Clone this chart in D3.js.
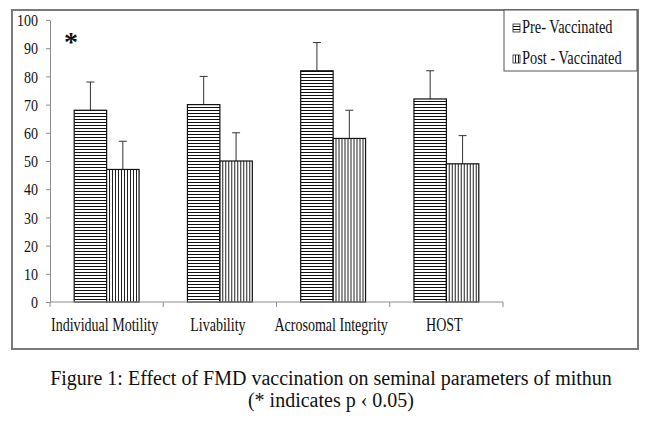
<!DOCTYPE html>
<html>
<head>
<meta charset="utf-8">
<script src="https://cdn.jsdelivr.net/npm/d3@7"></script>
<style>
  body { margin: 0; background: #fff; }
  svg { display: block; }
  svg text { font-family: "Liberation Serif", Tinos, "DejaVu Serif", "Times New Roman", serif; fill: #111; }
</style>
</head>
<body>
<div id="chart"></div>
<script>
const categories = ['Individual Motility', 'Livability', 'Acrosomal Integrity', 'HOST'];
const seriesNames = ['Pre- Vaccinated', 'Post - Vaccinated'];
const preValues = [68, 70, 82, 72];
const postValues = [47, 50, 58, 49];
const preErrors = [10, 10, 10, 10];
const postErrors = [10, 10, 10, 10];
const yTicks = [0, 10, 20, 30, 40, 50, 60, 70, 80, 90, 100];
const significant = ['Individual Motility'];
const captionLines = [
  'Figure 1: Effect of FMD vaccination on seminal parameters of mithun',
  '(* indicates p \u2039 0.05)'
];

const SERIF = '"Liberation Serif", Tinos, "DejaVu Serif", "Times New Roman", serif';

// squash text horizontally, the source figure was resized narrower
function squeeze(sel, k) {
  sel.each(function () {
    let w = this.getComputedTextLength();
    d3.select(this).attr('textLength', w * k).attr('lengthAdjust', 'spacingAndGlyphs');
  });
}

function drawChart() {
  let width = 659, height = 433,
    left = 50, right = 503, top = 20, bottom = 302;

  let svg = d3.select('#chart').append('svg')
    .attr('width', width)
    .attr('height', height)
    .attr('font-family', SERIF);

  let defs = svg.append('defs');
  let hp = defs.append('pattern')
    .attr('id', 'hstripe')
    .attr('patternUnits', 'userSpaceOnUse')
    .attr('width', 6).attr('height', 3);
  hp.append('rect').attr('width', 6).attr('height', 3).attr('fill', '#fff');
  hp.append('rect').attr('y', 2).attr('width', 6).attr('height', 1).attr('fill', '#111');

  let vp = defs.append('pattern')
    .attr('id', 'vstripe')
    .attr('patternUnits', 'userSpaceOnUse')
    .attr('width', 3).attr('height', 6);
  vp.append('rect').attr('width', 3).attr('height', 6).attr('fill', '#fff');
  vp.append('rect').attr('x', 2).attr('width', 1).attr('height', 6).attr('fill', '#222');

  const fills = ['url(#hstripe)', 'url(#vstripe)'];

  // outer frame
  svg.append('rect')
    .attr('x', 12).attr('y', 10)
    .attr('width', 626).attr('height', 339)
    .attr('fill', 'none')
    .attr('stroke', '#7a7a7a')
    .attr('stroke-width', 2);

  let x0 = d3.scaleBand().domain(categories).range([left, right]).padding(0);
  let x1 = d3.scaleBand().domain(seriesNames).range([0, x0.bandwidth()])
    .paddingInner(0).paddingOuter(0.746);
  let y = d3.scaleLinear().domain([0, 100]).range([bottom, top]);

  // y axis
  let yAxis = svg.append('g')
    .attr('transform', `translate(${left},0)`)
    .call(d3.axisLeft(y).tickValues(yTicks).tickSize(4).tickSizeOuter(0).tickPadding(8));
  yAxis.attr('font-family', SERIF);
  yAxis.select('.domain').attr('stroke', '#8c8c8c');
  yAxis.selectAll('.tick line').attr('stroke', '#8c8c8c');
  yAxis.selectAll('.tick text')
    .attr('font-size', 16.5)
    .attr('fill', '#111')
    .attr('dy', '0.34em')
    .call(squeeze, 0.85);

  // bars
  let data = categories.map((c, i) => ({
    cat: c,
    vals: [
      { s: seriesNames[0], v: preValues[i], e: preErrors[i], k: 0 },
      { s: seriesNames[1], v: postValues[i], e: postErrors[i], k: 1 }
    ]
  }));

  let groups = svg.append('g').selectAll('g')
    .data(data)
    .join('g')
    .attr('transform', d => `translate(${x0(d.cat)},0)`);

  // error bars behind the bars
  groups.selectAll('line.err')
    .data(d => d.vals)
    .join('line')
    .attr('class', 'err')
    .attr('x1', d => x1(d.s) + x1.bandwidth() / 2)
    .attr('x2', d => x1(d.s) + x1.bandwidth() / 2)
    .attr('y1', d => y(d.v))
    .attr('y2', d => y(d.v + d.e))
    .attr('stroke', '#333');
  groups.selectAll('line.cap')
    .data(d => d.vals)
    .join('line')
    .attr('class', 'cap')
    .attr('x1', d => x1(d.s) + x1.bandwidth() / 2 - 4)
    .attr('x2', d => x1(d.s) + x1.bandwidth() / 2 + 4)
    .attr('y1', d => y(d.v + d.e))
    .attr('y2', d => y(d.v + d.e))
    .attr('stroke', '#333');

  groups.selectAll('rect')
    .data(d => d.vals)
    .join('rect')
    .attr('x', d => x1(d.s))
    .attr('y', d => y(d.v))
    .attr('width', x1.bandwidth())
    .attr('height', d => y(0) - y(d.v))
    .attr('fill', d => fills[d.k])
    .attr('stroke', '#111')
    .attr('stroke-width', 1.2);

  // x axis with ticks at category boundaries
  let xa = svg.append('g');
  xa.append('line')
    .attr('x1', left).attr('x2', right)
    .attr('y1', y(0)).attr('y2', y(0))
    .attr('stroke', '#8c8c8c');
  let bounds = categories.map(c => x0(c)).concat([right]);
  xa.selectAll('line.tk')
    .data(bounds)
    .join('line')
    .attr('class', 'tk')
    .attr('x1', d => d).attr('x2', d => d)
    .attr('y1', y(0)).attr('y2', y(0) + 5)
    .attr('stroke', '#8c8c8c');
  xa.selectAll('text')
    .data(categories)
    .join('text')
    .attr('x', d => x0(d) + x0.bandwidth() / 2 - 2)
    .attr('y', 331)
    .attr('text-anchor', 'middle')
    .attr('font-size', 18)
    .text(d => d)
    .call(squeeze, 0.78);

  // significance marker
  svg.selectAll('text.sig')
    .data(significant)
    .join('text')
    .attr('class', 'sig')
    .attr('x', d => x0(d) + 21)
    .attr('y', y(89))
    .attr('text-anchor', 'middle')
    .attr('font-size', 28)
    .attr('font-weight', 'bold')
    .text('*');

  // legend
  let lg = svg.append('g').attr('transform', 'translate(504,10)');
  lg.append('rect')
    .attr('width', 133).attr('height', 61)
    .attr('fill', '#fff')
    .attr('stroke', '#555');
  let items = lg.selectAll('g')
    .data(seriesNames)
    .join('g')
    .attr('transform', (d, i) => `translate(9,${14 + i * 31})`);
  items.append('rect')
    .attr('width', 7).attr('height', 8)
    .attr('fill', (d, i) => fills[i])
    .attr('stroke', '#222')
    .attr('stroke-width', 0.8);
  items.append('text')
    .attr('x', 9)
    .attr('y', 8.5)
    .attr('font-size', 18)
    .text(d => d)
    .call(squeeze, 0.8);

  // caption
  svg.selectAll('text.caption')
    .data(captionLines)
    .join('text')
    .attr('class', 'caption')
    .attr('x', 331)
    .attr('y', (d, i) => 385 + i * 22)
    .attr('text-anchor', 'middle')
    .attr('font-size', 20)
    .attr('fill', '#000')
    .text(d => d);
}

drawChart();
</script>
</body>
</html>
